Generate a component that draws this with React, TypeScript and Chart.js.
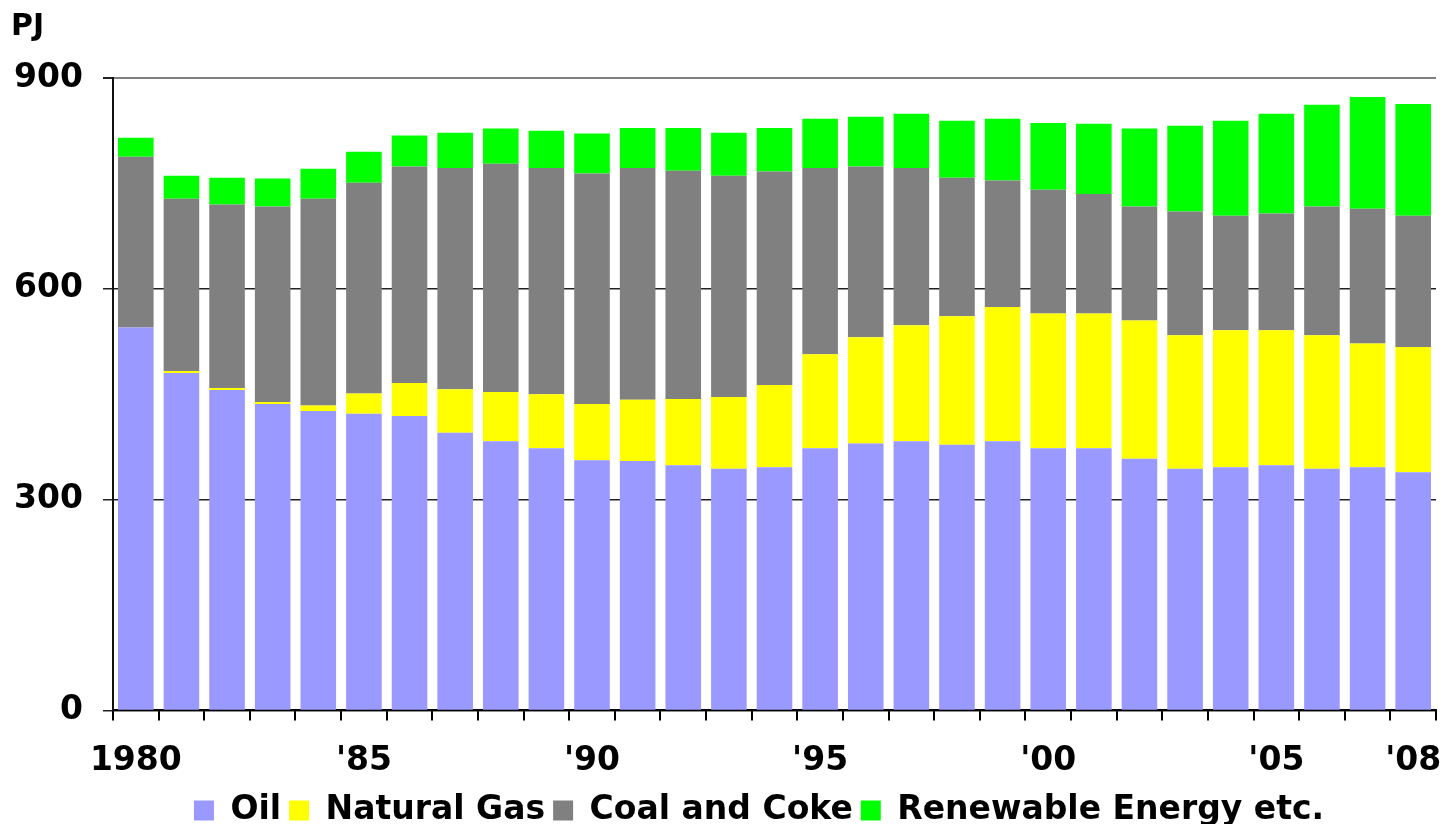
import React, { useEffect, useRef } from "react";
import { Chart, registerables } from "chart.js";

Chart.register(...registerables);

const years = [
  "1980", "1981", "1982", "1983", "1984", "1985", "1986", "1987", "1988", "1989",
  "1990", "1991", "1992", "1993", "1994", "1995", "1996", "1997", "1998", "1999",
  "2000", "2001", "2002", "2003", "2004", "2005", "2006", "2007", "2008",
];
const tickLabels: Record<string, string> = {
  "1980": "1980", "1985": "'85", "1990": "'90", "1995": "'95", "2000": "'00", "2005": "'05", "2008": "'08",
};
const oil = [545, 480, 456, 436, 426, 422, 419, 395, 383, 373, 356, 355, 349, 344, 346, 373, 380, 383, 378, 383, 373, 373, 358, 344, 346, 349, 344, 346, 339];
const naturalGas = [0, 3, 3, 3, 8, 29, 47, 62, 70, 77, 80, 87, 94, 102, 117, 134, 151, 165, 183, 191, 192, 192, 197, 190, 195, 192, 190, 176, 178];
const coalAndCoke = [243, 245, 261, 278, 294, 300, 308, 315, 325, 322, 328, 330, 325, 315, 304, 265, 243, 224, 197, 180, 176, 170, 162, 176, 163, 166, 183, 192, 187];
const renewable = [27, 33, 38, 40, 43, 44, 44, 50, 50, 53, 57, 57, 61, 61, 62, 70, 71, 77, 81, 88, 95, 100, 111, 122, 135, 142, 145, 159, 159];
const yStep = 300;
const yMax = 900;

const FONT = "'DejaVu Sans', Verdana, sans-serif";

export default function App() {
  const ref = useRef<HTMLCanvasElement | null>(null);
  useEffect(() => {
    document.body.style.margin = "0";
    if (!ref.current) return;
    const unitPlugin = {
      id: "unitLabel",
      afterLayout(chart: any) {
        if (chart.legend) {
          chart.legend.left += 35;
          chart.legend.right += 35;
        }
      },
      afterDraw(chart: any) {
        const ctx = chart.ctx;
        ctx.save();
        ctx.font = `bold 30px ${FONT}`;
        ctx.fillStyle = "#000";
        ctx.textBaseline = "alphabetic";
        ctx.textAlign = "left";
        ctx.fillText("PJ", 11, 35);
        ctx.restore();
      },
    };
    const mk = (label: string, data: number[], color: string) => ({
      label,
      data,
      backgroundColor: color,
      borderWidth: 0,
      barPercentage: 0.78,
      categoryPercentage: 1,
    });
    const chart = new Chart(ref.current, {
      type: "bar",
      data: {
        labels: years,
        datasets: [
          mk("Oil", oil, "#9999FF"),
          mk("Natural Gas", naturalGas, "#FFFF00"),
          mk("Coal and Coke", coalAndCoke, "#808080"),
          mk("Renewable Energy etc.", renewable, "#00FF00"),
        ],
      },
      options: {
        animation: false,
        responsive: false,
        maintainAspectRatio: false,
        layout: { padding: { left: 12, right: 13, top: 78, bottom: -13 } },
        plugins: {
          tooltip: { enabled: false },
          legend: {
            position: "bottom",
            labels: {
              boxWidth: 20,
              boxHeight: 20,
              padding: 8,
              color: "#000",
              font: { family: FONT, size: 33, weight: "bold" },
            },
          },
        },
        scales: {
          x: {
            stacked: true,
            grid: {
              offset: true,
              drawOnChartArea: false,
              drawTicks: true,
              tickLength: 10,
              color: "#000",
              lineWidth: 2,
            },
            border: { color: "#000", width: 2 },
            ticks: {
              autoSkip: false,
              maxRotation: 0,
              padding: 21,
              color: "#000",
              font: { family: FONT, size: 33, weight: "bold" },
              callback: (_v: any, i: number) => tickLabels[years[i]] ?? "",
            },
            afterFit: (scale: any) => {
              scale.paddingLeft = 0;
              scale.paddingRight = 0;
              scale.height = scale.height - 16;
            },
          },
          y: {
            stacked: true,
            min: 0,
            max: yMax,
            grid: {
              color: (c: any) => (c.tick && c.tick.value === yMax ? "#808080" : "#222"),
              tickColor: "#222",
              lineWidth: (c: any) => (c.tick && c.tick.value === yMax ? 2 : 1.5),
              tickLength: 10,
            },
            border: { color: "#111", width: 2 },
            ticks: {
              stepSize: yStep,
              padding: 20,
              color: "#000",
              font: { family: FONT, size: 33, weight: "bold" },
            },
            afterFit: (scale: any) => {
              scale.width = 101;
            },
          },
        },
      },
      plugins: [unitPlugin],
    } as any);
    return () => chart.destroy();
  }, []);
  return (
    <div style={{ position: "absolute", left: 0, top: 0, width: 1449, height: 824 }}>
      <canvas ref={ref} width={1449} height={824} style={{ display: "block" }} />
    </div>
  );
}
